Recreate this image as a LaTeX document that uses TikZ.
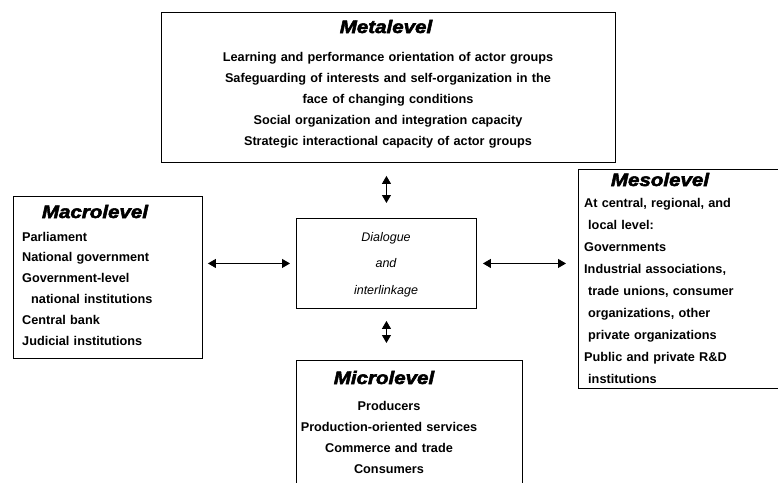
\documentclass[tikz,border=0pt]{standalone}
\usepackage{fontspec}
\setmainfont{Liberation Sans}
\newfontfamily\headfont[FakeBold=3,FakeStretch=1.14]{Liberation Sans}
\usetikzlibrary{arrows.meta}
\begin{document}
\begin{tikzpicture}[x=1pt,y=-1pt]
	\tikzset{panel/.style = {draw, line width=0.9pt, inner sep=0pt, anchor=north west},
		heading/.style = {anchor=base, inner sep=0pt, font=\headfont\fontsize{18}{20}\selectfont\bfseries\itshape},
		entries/.style = {inner sep=0pt, anchor=base, font=\fontsize{12.7}{21}\selectfont\bfseries},
		link/.style = {{Triangle[length=8pt,width=9pt]}-{Triangle[length=8pt,width=9pt]}, line width=0.9pt}}

	\useasboundingbox (0,0) rectangle (778,482);
	\clip (0,0) rectangle (778,482);

	% boxes
	\node[panel, minimum width=454pt, minimum height=150pt] (meta) at (161,12) {};
	\node[panel, minimum width=189pt, minimum height=162pt] (macro) at (13,196) {};
	\node[panel, minimum width=180pt, minimum height=90pt] (dia) at (296,218) {};
	\node[panel, minimum width=215pt, minimum height=219pt] (meso) at (578,169) {};
	\node[panel, minimum width=226pt, minimum height=135pt] (micro) at (296,360) {};

	% headings
	\node[heading] (meta_title) at (386,33) {Metalevel};
	\node[heading] (macro_title) at (95,218) {Macrolevel};
	\node[heading] (meso_title) at (660,186) {Mesolevel};
	\node[heading] (micro_title) at (384,384) {Microlevel};

	% contents
	\node[entries, text width=440pt, align=center] (meta_text) at (388,61)
		{Learning and performance orientation of actor groups\\
		Safeguarding of interests and self-organization in the\\
		face of changing conditions\\
		Social organization and integration capacity\\
		Strategic interactional capacity of actor groups};
	\node[entries, anchor=base west, text width=178pt, align=left, font=\fontsize{12.7}{20.8}\selectfont\bfseries] (macro_text) at (22,241)
		{Parliament\\
		National government\\
		Government-level\\
		\hspace*{9pt}national institutions\\
		Central bank\\
		Judicial institutions};
	\node[entries, anchor=base west, text width=190pt, align=left, font=\fontsize{12.7}{22}\selectfont\bfseries] (meso_text) at (584,207)
		{At central, regional, and\\
		\hspace*{4pt}local level:\\
		Governments\\
		Industrial associations,\\
		\hspace*{4pt}trade unions, consumer\\
		\hspace*{4pt}organizations, other\\
		\hspace*{4pt}private organizations\\
		Public and private R\&D\\
		\hspace*{4pt}institutions};
	\node[entries, text width=220pt, align=center] (micro_text) at (389,410)
		{Producers\\
		Production-oriented services\\
		Commerce and trade\\
		Consumers};
	\node[entries, text width=170pt, align=center, font=\fontsize{12.5}{26.5}\selectfont\itshape] (dia_text) at (386,241)
		{Dialogue\\ and\\ interlinkage};

	% links
	\draw[link, shorten <=13pt, shorten >=15pt] (meta.south -| dia.north) -- (dia.north);
	\draw[link, shorten <=5pt, shorten >=6pt] (macro.east |- dia.west) -- (dia.west);
	\draw[link, shorten <=6pt, shorten >=12pt] (dia.east) -- (dia.east -| meso.west);
	\draw[link, shorten <=12pt, shorten >=17pt] (dia.south) -- (dia.south |- micro.north);
\end{tikzpicture}
\end{document}
